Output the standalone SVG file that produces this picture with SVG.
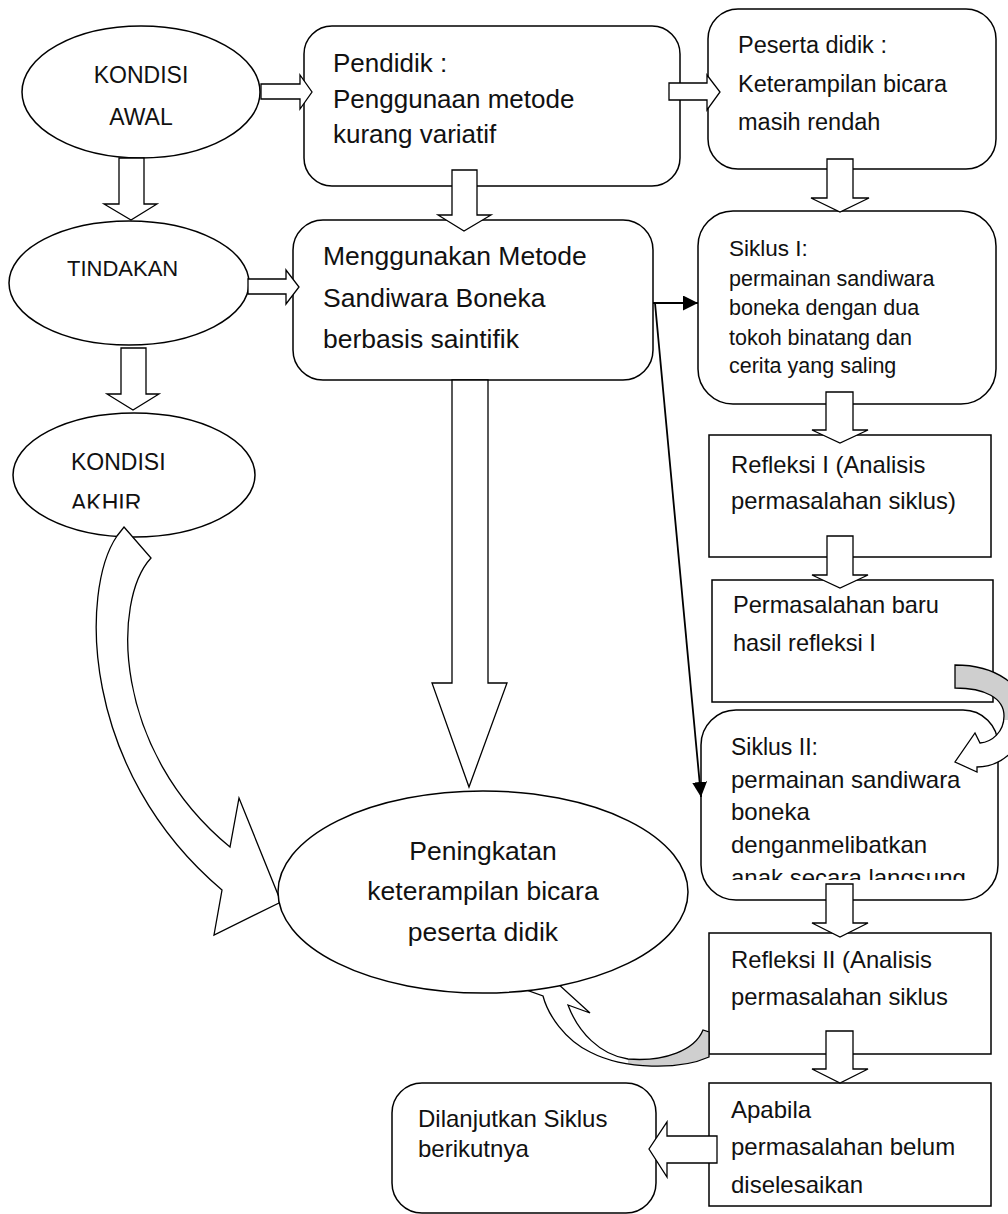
<svg xmlns="http://www.w3.org/2000/svg" width="1008" height="1214" viewBox="0 0 1008 1214">
<style>
.n{fill:#fff;stroke:#000;stroke-width:1.5}
.t{font-family:"Liberation Sans",Arial,sans-serif;fill:#111}
.ba{fill:#fff;stroke:#000;stroke-width:1.3;stroke-linejoin:miter}
.ln{fill:none;stroke:#000;stroke-width:1.8}
.cs{fill:none;stroke:#000;stroke-width:1.3}
</style>
<defs>
<marker id="ah" viewBox="0 0 10 10" refX="10" refY="5" markerWidth="8" markerHeight="8" markerUnits="userSpaceOnUse" orient="auto">
<path d="M0,0 L10,5 L0,10 Z" fill="#000"/>
</marker>
<marker id="ahb" viewBox="0 0 10 10" refX="10" refY="5" markerWidth="15" markerHeight="15" markerUnits="userSpaceOnUse" orient="auto">
<path d="M0,0 L10,5 L0,10 Z" fill="#000"/>
</marker>
<clipPath id="clipS2"><rect x="700" y="700" width="300" height="180"/></clipPath>
<clipPath id="clipAk"><rect x="0" y="400" width="300" height="108.5"/></clipPath>
<clipPath id="clipGrayR"><rect x="940" y="640" width="80" height="80"/></clipPath>
<clipPath id="clipGrayB"><rect x="628" y="1000" width="90" height="80"/></clipPath>
</defs>

<g id="kondisi-awal">
<ellipse class="n" cx="141" cy="92" rx="119" ry="66"/>
<text class="t" font-size="23" text-anchor="middle" x="141" y="83">KONDISI</text>
<text class="t" font-size="23" text-anchor="middle" x="141" y="125">AWAL</text>
</g>

<g id="pendidik">
<rect class="n" x="304" y="26" width="376" height="160" rx="28"/>
<text class="t" font-size="26" x="333" y="72">Pendidik :</text>
<text class="t" font-size="26" x="333" y="108">Penggunaan metode</text>
<text class="t" font-size="26" x="333" y="143">kurang variatif</text>
</g>

<g id="peserta-didik">
<rect class="n" x="708" y="9" width="288" height="160" rx="30"/>
<text class="t" font-size="23.5" x="738" y="53">Peserta didik :</text>
<text class="t" font-size="23.5" x="738" y="92">Keterampilan bicara</text>
<text class="t" font-size="23.5" x="738" y="130">masih rendah</text>
</g>

<g id="tindakan">
<ellipse class="n" cx="129" cy="283" rx="120" ry="62"/>
<text class="t" font-size="22" x="67" y="276">TINDAKAN</text>
</g>

<g id="menggunakan">
<rect class="n" x="293" y="220" width="360" height="160" rx="30"/>
<text class="t" font-size="26.5" x="323" y="265">Menggunakan Metode</text>
<text class="t" font-size="26.5" x="323" y="307">Sandiwara Boneka</text>
<text class="t" font-size="26.5" x="323" y="348">berbasis saintifik</text>
</g>

<g id="siklus-1">
<rect class="n" x="698" y="211" width="298" height="193" rx="35"/>
<text class="t" font-size="22.5" x="729" y="256">Siklus I:</text>
<text class="t" font-size="21.5" x="729" y="286">permainan sandiwara</text>
<text class="t" font-size="21.5" x="729" y="315">boneka dengan dua</text>
<text class="t" font-size="21.5" x="729" y="345">tokoh binatang dan</text>
<text class="t" font-size="21.5" x="729" y="373">cerita yang saling</text>
</g>

<g id="kondisi-akhir">
<ellipse class="n" cx="134" cy="475" rx="121" ry="62"/>
<text class="t" font-size="23" x="71" y="470">KONDISI</text>
<text class="t" font-size="23" x="71" y="511" clip-path="url(#clipAk)">AKHIR</text>
</g>

<g id="refleksi-1">
<rect class="n" x="709" y="435" width="282" height="122"/>
<text class="t" font-size="23.8" x="731" y="473">Refleksi I (Analisis</text>
<text class="t" font-size="23.8" x="731" y="509">permasalahan siklus)</text>
</g>

<g id="permasalahan-baru">
<rect class="n" x="712" y="580" width="281" height="122"/>
<text class="t" font-size="23.6" x="733" y="613">Permasalahan baru</text>
<text class="t" font-size="23.6" x="733" y="651">hasil refleksi I</text>
</g>

<g id="siklus-2">
<rect class="n" x="701" y="710" width="297" height="190" rx="35"/>
<g clip-path="url(#clipS2)">
<text class="t" font-size="23" x="731" y="755">Siklus II:</text>
<text class="t" font-size="24" x="731" y="788">permainan sandiwara</text>
<text class="t" font-size="24" x="731" y="820">boneka</text>
<text class="t" font-size="24" x="731" y="853">denganmelibatkan</text>
<text class="t" font-size="24" x="731" y="886">anak secara langsung</text>
</g>
</g>

<g id="refleksi-2">
<rect class="n" x="709" y="933" width="282" height="121"/>
<text class="t" font-size="23.8" x="731" y="968">Refleksi II (Analisis</text>
<text class="t" font-size="23.8" x="731" y="1005">permasalahan siklus</text>
</g>

<g id="apabila">
<rect class="n" x="709" y="1083" width="282" height="123"/>
<text class="t" font-size="24" x="731" y="1118">Apabila</text>
<text class="t" font-size="24" x="731" y="1155">permasalahan belum</text>
<text class="t" font-size="24" x="731" y="1193">diselesaikan</text>
</g>

<g id="dilanjutkan">
<rect class="n" x="392" y="1083" width="264" height="130" rx="30"/>
<text class="t" font-size="24" x="418" y="1127">Dilanjutkan Siklus</text>
<text class="t" font-size="24" x="418" y="1157">berikutnya</text>
</g>

<g id="connectors">
<polygon class="ba" points="261,84 300,84 300,75 312,92 300,109 300,99 261,99"/>
<polygon class="ba" points="669,83 707,83 707,75 720,92 707,110 707,100 669,100"/>
<polygon class="ba" points="827,159 853,159 853,198 869,198 840,212 811,198 827,198"/>
<polygon class="ba" points="826,392 853,392 853,430 868,430 840,443 812,430 826,430"/>
<polygon class="ba" points="827,536 853,536 853,575 868,575 840,588 812,575 827,575"/>
<polygon class="ba" points="826,884 853,884 853,923 868,923 840,937 812,923 826,923"/>
<polygon class="ba" points="826,1031 853,1031 853,1069 868,1069 840,1083 812,1069 826,1069"/>
<polygon class="ba" points="717,1136 667,1136 667,1122 649,1149 667,1177 667,1163 717,1163"/>
<polygon class="ba" points="452,170 477,170 477,215 491,215 464,231 438,215 452,215"/>
<polygon class="ba" points="119,158 144,158 144,204 157,204 131,220 104,204 119,204"/>
<polygon class="ba" points="248,279 286,279 286,270 299,287 286,304 286,294 248,294"/>
<polygon class="ba" points="121,348 146,348 146,394 159,394 133,410 107,394 121,394"/>
<polygon class="ba" points="452,380 488,380 488,683 507,683 469,787 432,683 452,683"/>
<line class="ln" x1="653" y1="303" x2="698" y2="303" marker-end="url(#ahb)"/>
<line class="ln" x1="655" y1="303" x2="701" y2="797" marker-end="url(#ahb)"/>
<path class="ba" d="M124,527 L151,558 C112,600 112,750 230,847 L239,798 L281,902 L214,935 L222,890 C80,770 80,590 117,536 Z"/>
<path d="M955,665 C995,665 1026,685 1026,716 C1026,748 1000,767 977,767 L977,772 L955,762 L975,733 L980,743 C992,742 1004,732 1004,716 C1004,698 985,688 955,688 Z" fill="#fff"/>
<path d="M955,665 C995,665 1026,685 1026,716 C1026,748 1000,767 977,767 L977,772 L955,762 L975,733 L980,743 C992,742 1004,732 1004,716 C1004,698 985,688 955,688 Z" fill="#cfcfcf" clip-path="url(#clipGrayR)"/>
<path class="cs" d="M955,665 C995,665 1026,685 1026,716 C1026,748 1000,767 977,767 L977,772 L955,762 L975,733 L980,743 C992,742 1004,732 1004,716 C1004,698 985,688 955,688 Z"/>
<path d="M703,1030 C695,1050 665,1062 628,1059 C600,1055 578,1032 568,1005 L590,1013 L545,972 L521,988 L543,996 C548,1015 565,1040 590,1052 C625,1070 680,1070 709,1057 L709,1032 Z" fill="#fff"/>
<path d="M703,1030 C695,1050 665,1062 628,1059 C600,1055 578,1032 568,1005 L590,1013 L545,972 L521,988 L543,996 C548,1015 565,1040 590,1052 C625,1070 680,1070 709,1057 L709,1032 Z" fill="#cfcfcf" clip-path="url(#clipGrayB)"/>
<path class="cs" d="M703,1030 C695,1050 665,1062 628,1059 C600,1055 578,1032 568,1005 L590,1013 L545,972 L521,988 L543,996 C548,1015 565,1040 590,1052 C625,1070 680,1070 709,1057 L709,1032 Z"/>
</g>

<g id="peningkatan">
<ellipse class="n" cx="483" cy="892" rx="205" ry="101"/>
<text class="t" font-size="26.5" text-anchor="middle" x="483" y="860">Peningkatan</text>
<text class="t" font-size="26.5" text-anchor="middle" x="483" y="900">keterampilan bicara</text>
<text class="t" font-size="26.5" text-anchor="middle" x="483" y="941">peserta didik</text>
</g>
</svg>
